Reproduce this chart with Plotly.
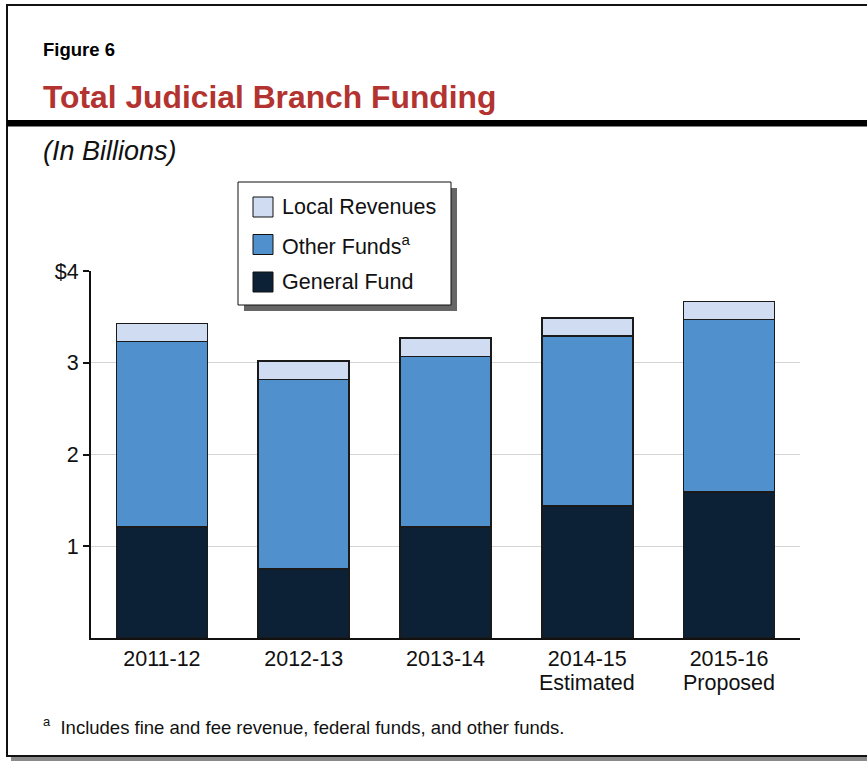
import plotly.graph_objects as go

# ---- data ----
years = ["2011-12", "2012-13", "2013-14", "2014-15", "2015-16"]
year_notes = ["", "", "", "Estimated", "Proposed"]
general_fund = [1.21, 0.75, 1.21, 1.44, 1.59]
other_funds = [2.02, 2.07, 1.86, 1.85, 1.88]
local_revenues = [0.20, 0.20, 0.20, 0.20, 0.20]
series_names = ["General Fund", "Other Funds<sup>a</sup>", "Local Revenues"]
series_colors = ["#0c2136", "#5090cc", "#cfdcf2"]
y_tickvals = [1, 2, 3, 4]
y_ticktext = ["1", "2", "3", "$4"]

W, H = 867, 761
FONT = "Liberation Sans, Arial, Helvetica, sans-serif"


def px(x):
    return x / W


def py(y):
    return 1 - y / H


fig = go.Figure()
for name, vals, col in zip(series_names, [general_fund, other_funds, local_revenues], series_colors):
    fig.add_trace(go.Bar(
        x=years, y=vals, name=name,
        marker=dict(color=col, line=dict(color="#1a1a1a", width=1.5)),
        showlegend=False, hoverinfo="y+name",
    ))

shapes = []
# outer frame
shapes.append(dict(type="rect", xref="paper", yref="paper", x0=px(11), x1=px(W + 5), y0=py(761), y1=py(757),
                   fillcolor="#8a8a8a", line=dict(width=0), layer="below"))
shapes.append(dict(type="line", xref="paper", yref="paper", x0=px(7), x1=px(7), y0=py(5), y1=py(757),
                   line=dict(color="#111", width=2)))
shapes.append(dict(type="line", xref="paper", yref="paper", x0=px(6), x1=px(W + 5), y0=py(5), y1=py(5),
                   line=dict(color="#111", width=2)))
shapes.append(dict(type="line", xref="paper", yref="paper", x0=px(6), x1=px(W + 5), y0=py(756), y1=py(756),
                   line=dict(color="#111", width=2)))
# thick header bar
shapes.append(dict(type="rect", xref="paper", yref="paper", x0=px(7), x1=px(W + 5), y0=py(126.5), y1=py(120),
                   fillcolor="#000", line=dict(width=0)))

# legend box with shadow
shapes.append(dict(type="rect", xref="paper", yref="paper", x0=px(244), x1=px(457), y0=py(311), y1=py(188),
                   fillcolor="#666666", line=dict(width=0)))
shapes.append(dict(type="rect", xref="paper", yref="paper", x0=px(238), x1=px(451), y0=py(305), y1=py(182),
                   fillcolor="white", line=dict(color="#111", width=1)))

annotations = []
legend_rows = [(207, 2), (244.5, 1), (282, 0)]
for yc, idx in legend_rows:
    shapes.append(dict(type="rect", xref="paper", yref="paper", x0=px(253), x1=px(273),
                       y0=py(yc + 10), y1=py(yc - 10), fillcolor=series_colors[idx],
                       line=dict(color="#111", width=1)))
    annotations.append(dict(xref="paper", yref="paper", x=px(280), y=py(yc), xanchor="left", yanchor="middle",
                            text=series_names[idx], showarrow=False,
                            font=dict(family=FONT, size=21.5, color="#111")))

# second line of category labels
for cat, note in zip(years, year_notes):
    if note:
        annotations.append(dict(xref="x", yref="paper", x=cat, y=py(683), xanchor="center", yanchor="middle",
                                text=note, showarrow=False, borderpad=0,
                                font=dict(family=FONT, size=21.5, color="#111")))

annotations += [
    dict(xref="paper", yref="paper", x=px(41), y=py(50), xanchor="left", yanchor="middle",
         text="<b>Figure 6</b>", showarrow=False, font=dict(family=FONT, size=18.5, color="#000")),
    dict(xref="paper", yref="paper", x=px(41), y=py(97), xanchor="left", yanchor="middle",
         text="<b>Total Judicial Branch Funding</b>", showarrow=False,
         font=dict(family=FONT, size=31.8, color="#b33330")),
    dict(xref="paper", yref="paper", x=px(41), y=py(151), xanchor="left", yanchor="middle",
         text="<i>(In Billions)</i>", showarrow=False, font=dict(family=FONT, size=27, color="#111")),
    dict(xref="paper", yref="paper", x=px(41), y=py(726), xanchor="left", yanchor="middle",
         text="<sup>a</sup>  Includes fine and fee revenue, federal funds, and other funds.", showarrow=False,
         font=dict(family=FONT, size=18.5, color="#111")),
]

fig.update_layout(
    width=W, height=H,
    margin=dict(l=0, r=0, t=0, b=0, autoexpand=False),
    paper_bgcolor="white", plot_bgcolor="white",
    barmode="stack", bargap=0.358,
    font=dict(family=FONT, size=21, color="#111"),
    shapes=shapes, annotations=annotations,
    xaxis=dict(type="category", domain=[px(91), px(800)], showline=True, linecolor="#111", linewidth=2,
               ticks="", showgrid=False, tickfont=dict(size=21.5, color="#111"), fixedrange=True,
               automargin=False),
    yaxis=dict(domain=[py(638), py(271)], range=[0, 4], tickvals=y_tickvals, ticktext=y_ticktext,
               showline=True, linecolor="#111", linewidth=2, ticks="outside", ticklen=6, tickwidth=2,
               tickcolor="#111", showgrid=True, gridcolor="#d4d4d4", gridwidth=1, zeroline=False,
               tickfont=dict(size=21.5, color="#111"), fixedrange=True, automargin=False),
)

fig.write_html("out.html")
